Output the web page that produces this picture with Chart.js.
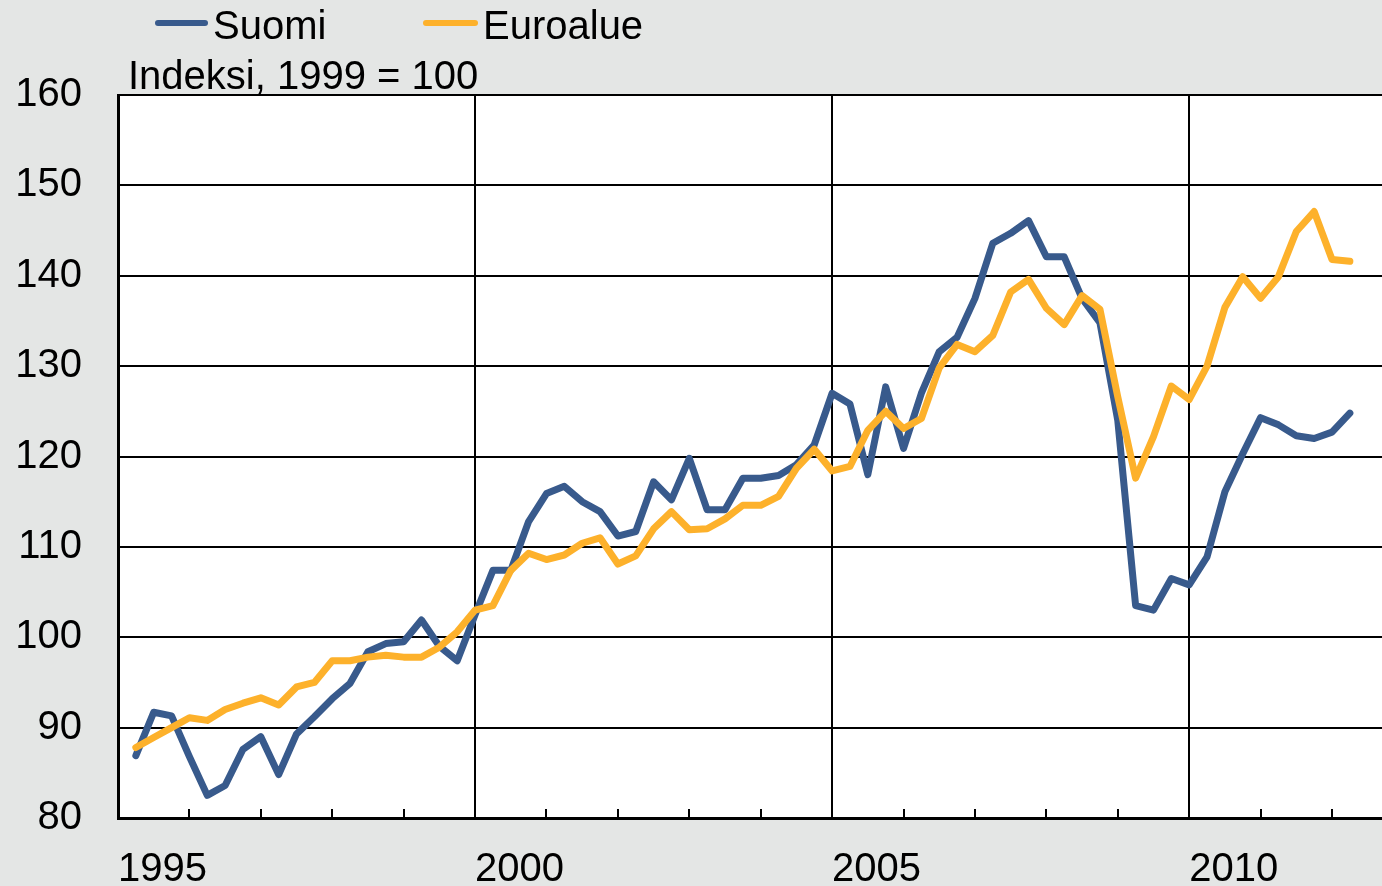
<!DOCTYPE html>
<html>
<head>
<meta charset="utf-8">
<script src="https://cdn.jsdelivr.net/npm/chart.js@4"></script>
<style>
  html, body { margin: 0; padding: 0; background: #e4e6e5; overflow: hidden; }
  #wrap { position: relative; width: 1382px; height: 886px; font-family: "Liberation Sans", Arial, sans-serif; }
  #chart1 { position: absolute; left: 0; top: 0; }
  .lbl { position: absolute; font-size: 40px; line-height: 46px; color: #000; white-space: nowrap; }
  .swatch { position: absolute; height: 6px; border-radius: 3px; }
</style>
</head>
<body>
<div id="wrap">
  <canvas id="chart1" width="1382" height="886"></canvas>
  <div class="swatch" style="left:155px; top:20px; width:53px; background:#385a8c;"></div>
  <div class="lbl" style="left:213px; top:2px;">Suomi</div>
  <div class="swatch" style="left:423px; top:20px; width:55px; background:#fdb12b;"></div>
  <div class="lbl" style="left:483px; top:2px;">Euroalue</div>
  <div class="lbl" style="left:128px; top:52px;">Indeksi, 1999 = 100</div>
</div>
<script>
// quarterly index, 1995Q1 .. 2012Q1
let firstYear = 1995;
let quarters = [];
for (let y = 1995; y <= 2012; y++) {
    for (let q = 1; q <= 4; q++) {
        if (y === 2012 && q > 1) break;
        quarters.push(y + "Q" + q);
    }
}

let suomi = [
    86.9, 91.7, 91.3, 86.8, 82.5, 83.6, 87.6, 89.0,
    84.8, 89.3, 91.2, 93.2, 94.9, 98.4, 99.3, 99.5,
    101.9, 99.0, 97.4, 102.5, 107.4, 107.4, 112.8, 115.9,
    116.7, 115.0, 113.9, 111.2, 111.7, 117.2, 115.2, 119.8,
    114.1, 114.1, 117.6, 117.6, 117.9, 119.1, 121.3, 127.0,
    125.8, 118.0, 127.7, 120.9, 127.0, 131.6, 133.2, 137.5,
    143.6, 144.7, 146.1, 142.1, 142.1, 137.5, 134.8, 124.0,
    103.5, 103.0, 106.5, 105.8, 108.9, 116.1, 120.3, 124.3,
    123.5, 122.3, 122.0, 122.7, 124.8
];
let euroalue = [
    87.8, 88.9, 90.0, 91.1, 90.8, 92.0, 92.7, 93.3,
    92.5, 94.5, 95.0, 97.4, 97.4, 97.8, 98.0, 97.8,
    97.8, 98.9, 100.6, 103.0, 103.5, 107.4, 109.3, 108.6,
    109.1, 110.4, 111.0, 108.1, 109.0, 112.0, 113.9, 111.9,
    112.0, 113.1, 114.6, 114.6, 115.6, 118.7, 120.8, 118.4,
    118.9, 122.9, 125.0, 123.1, 124.2, 129.8, 132.4, 131.6,
    133.4, 138.2, 139.6, 136.4, 134.6, 137.8, 136.3, 126.6,
    117.6, 122.2, 127.8, 126.3, 130.0, 136.5, 139.9, 137.5,
    139.9, 144.9, 147.1, 141.8, 141.6
];

let yTicks = [80, 90, 100, 110, 120, 130, 140, 150, 160];
let yearLabels = [1995, 2000, 2005, 2010];

// each quarter is placed at the end of its quarter
function quarterPos(label) {
    let y = parseInt(label.slice(0, 4));
    let q = parseInt(label.slice(5));
    return y + q / 4;
}
function toPoints(values) {
    return values.map((v, i) => ({ x: quarterPos(quarters[i]), y: v }));
}

let plotBg = {
    id: "plotBg",
    beforeDraw(chart) {
        let a = chart.chartArea;
        let c = chart.ctx;
        c.save();
        c.fillStyle = "#ffffff";
        c.fillRect(a.left, a.top, a.right - a.left, a.bottom - a.top);
        c.restore();
    }
};

// small year ticks pointing into the plot
let innerTicks = {
    id: "innerTicks",
    afterDraw(chart) {
        let xs = chart.scales.x;
        let a = chart.chartArea;
        let c = chart.ctx;
        c.save();
        c.strokeStyle = "#000";
        c.lineWidth = 2;
        for (let y = firstYear + 1; y <= 2012; y++) {
            if (y % 5 === 0) continue;
            let px = Math.round(xs.getPixelForValue(y));
            c.beginPath();
            c.moveTo(px, a.bottom);
            c.lineTo(px, a.bottom - 9);
            c.stroke();
        }
        c.restore();
    }
};

let ctx = document.getElementById("chart1").getContext("2d");
let chart1 = new Chart(ctx, {
    type: "line",
    data: {
        datasets: [
            {
                label: "Suomi",
                data: toPoints(suomi),
                borderColor: "#385a8c",
                backgroundColor: "#385a8c",
                borderWidth: 7,
                pointRadius: 0,
                borderJoinStyle: "round",
                borderCapStyle: "round",
                order: 2
            },
            {
                label: "Euroalue",
                data: toPoints(euroalue),
                borderColor: "#fdb12b",
                backgroundColor: "#fdb12b",
                borderWidth: 7,
                pointRadius: 0,
                borderJoinStyle: "round",
                borderCapStyle: "round",
                order: 1
            }
        ]
    },
    options: {
        responsive: false,
        animation: false,
        layout: { padding: { top: 95, left: 0, right: 0, bottom: 0 } },
        plugins: {
            legend: { display: false },
            tooltip: { enabled: false }
        },
        scales: {
            x: {
                type: "linear",
                min: 1995,
                max: 2012.7,
                afterFit(scale) { scale.height = 68; },
                grid: {
                    color: (c) => (c.tick && c.tick.value % 5 === 0 ? "#000" : "rgba(0,0,0,0)"),
                    lineWidth: 2,
                    drawTicks: false
                },
                border: { display: true, color: "#000", width: 3 },
                ticks: {
                    stepSize: 1,
                    includeBounds: false,
                    autoSkip: false,
                    maxRotation: 0,
                    minRotation: 0,
                    align: "start",
                    padding: 28,
                    color: "#000",
                    font: { family: "'Liberation Sans', Arial, sans-serif", size: 40 },
                    callback: (v) => (yearLabels.includes(v) ? String(v) : "")
                }
            },
            y: {
                min: 80,
                max: 160,
                afterFit(scale) { scale.width = 118; },
                afterBuildTicks(scale) { scale.ticks = yTicks.map((v) => ({ value: v })); },
                grid: { color: "#000", lineWidth: 2, drawTicks: false },
                border: { display: true, color: "#000", width: 3 },
                ticks: {
                    padding: 36,
                    color: "#000",
                    font: { family: "'Liberation Sans', Arial, sans-serif", size: 40 }
                }
            }
        }
    },
    plugins: [plotBg, innerTicks]
});
</script>
</body>
</html>
